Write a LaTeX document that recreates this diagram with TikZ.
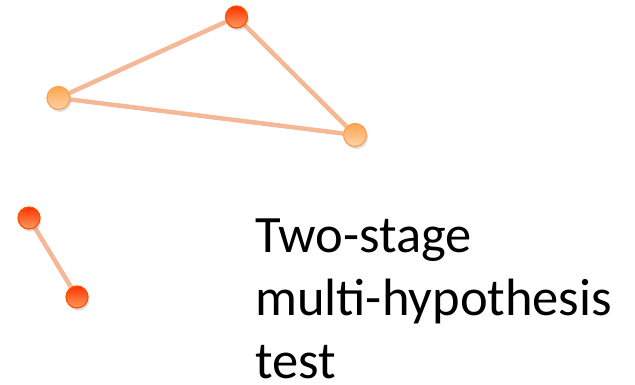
\documentclass[tikz,border=0pt]{standalone}
\usepackage{fontspec}
\setmainfont{Carlito}
\usetikzlibrary{shadows,backgrounds}
\definecolor{linkcol}{HTML}{F5B897}
\definecolor{hotrim}{HTML}{FF5200}
\definecolor{hottop}{HTML}{FF3300}
\definecolor{hotbot}{HTML}{FF9C5E}
\definecolor{warmrim}{HTML}{F8A24F}
\definecolor{warmtop}{HTML}{FFA54E}
\definecolor{warmbot}{HTML}{FFD3AA}

\begin{document}
\begin{tikzpicture}[x=1pt,y=-1pt, hot/.style={circle,inner sep=0,minimum size=22pt,draw=hotrim,line width=1.2pt,top color=hottop,bottom color=hotbot,drop shadow={opacity=0.25,shadow xshift=1.5pt,shadow yshift=-2.5pt}}, warm/.style={circle,inner sep=0,minimum size=23pt,draw=warmrim,line width=1.2pt,top color=warmtop,bottom color=warmbot,drop shadow={opacity=0.25,shadow xshift=1.5pt,shadow yshift=-2.5pt}}, link/.style={draw=linkcol,line width=4.5pt}]
  \useasboundingbox (0,0) rectangle (635,385);
  \node (apex) [hot] at (236.5,17) {};
  \node (left) [warm] at (58.5,98) {};
  \node (right) [warm] at (355,135) {};
  \node (pairtop) [hot] at (29,218) {};
  \node (pairbot) [hot] at (77,297) {};
  % base anchor sits on the last line
  \node (label) [anchor=base west,align=left,inner sep=0,font=\fontsize{52.5}{63}\selectfont] at (255,378) {Two-stage\\multi-hypothesis\\test};
  \begin{scope}[on background layer]
    \draw [link] (apex) -- (left) -- (right) -- (apex);
    \draw [link] (pairtop) -- (pairbot);
  \end{scope}
\end{tikzpicture}
\end{document}
